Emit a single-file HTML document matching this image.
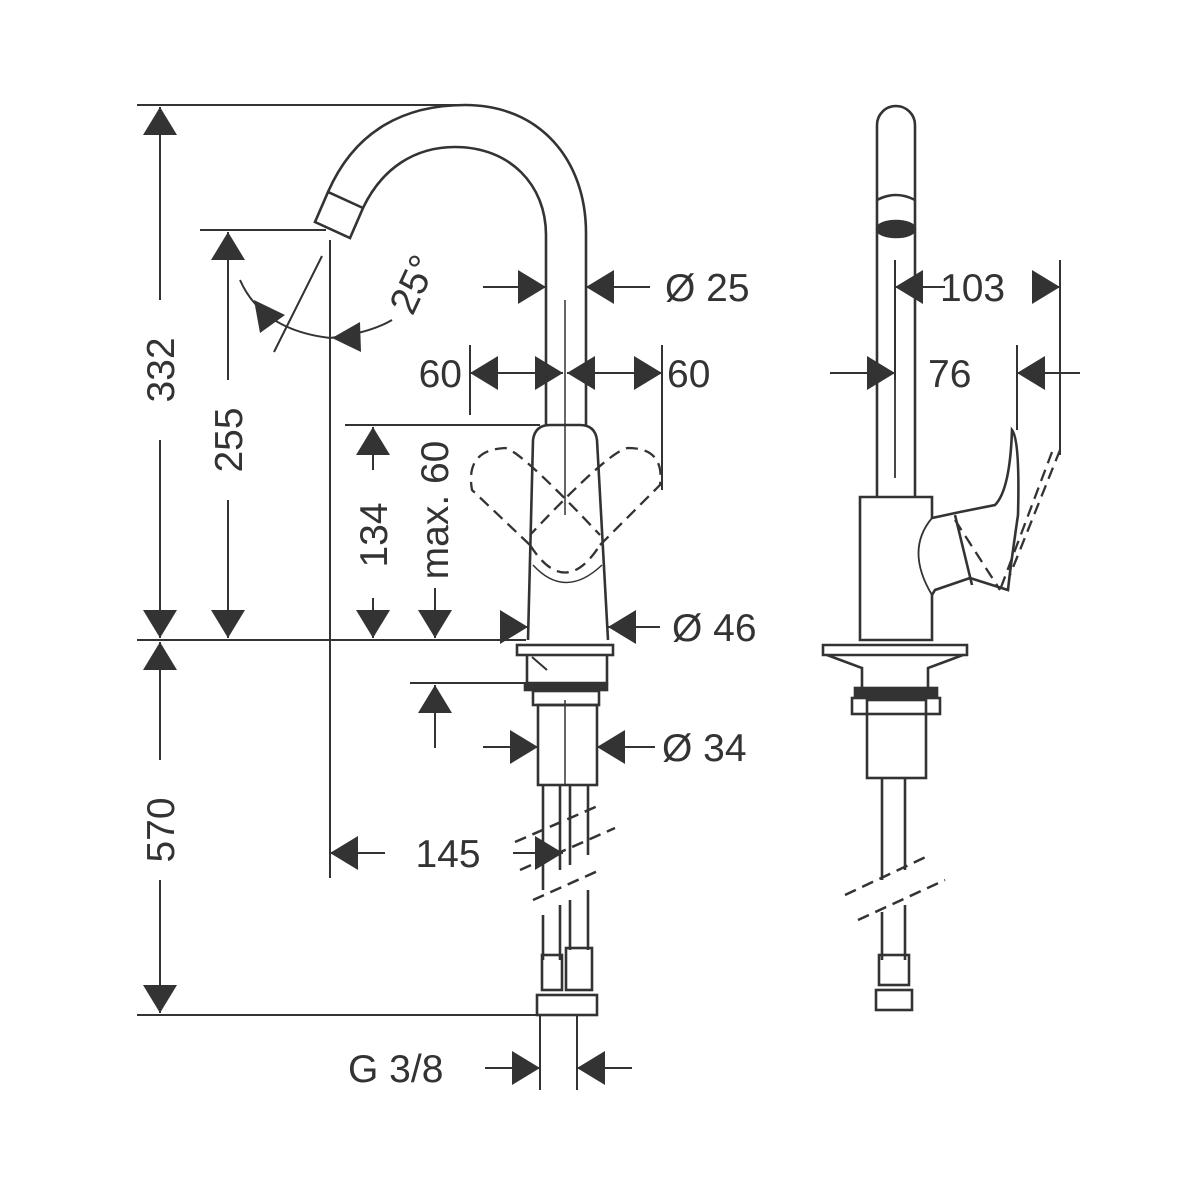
<!DOCTYPE html>
<html><head><meta charset="utf-8"><style>
html,body{margin:0;padding:0;background:#fff}
svg{display:block}
text{font-family:"Liberation Sans",sans-serif;font-size:39px;fill:#333}
</style></head><body>
<svg width="1200" height="1200" viewBox="0 0 1200 1200" xmlns="http://www.w3.org/2000/svg">
<defs>
<marker id="a" markerUnits="userSpaceOnUse" markerWidth="30" markerHeight="34" refX="28" refY="17" orient="auto">
<path d="M0,0 L28,17 L0,34 z" fill="#333"/></marker>
</defs>
<g stroke="#333" stroke-width="2" fill="none">
<line x1="137" y1="105" x2="470" y2="105"/>
<line x1="137" y1="640" x2="526" y2="640"/>
<line x1="137" y1="1015" x2="540" y2="1015"/>
<line x1="200" y1="230" x2="326" y2="230"/>
<line x1="345" y1="425" x2="540" y2="425"/>
<line x1="410" y1="683" x2="528" y2="683"/>
<line x1="330" y1="240" x2="330" y2="878"/>
<line x1="540" y1="1015" x2="540" y2="1090"/>
<line x1="577" y1="1015" x2="577" y2="1090"/>
<line x1="470" y1="345" x2="470" y2="415"/>
<line x1="662" y1="345" x2="662" y2="490"/>
<line x1="895" y1="260" x2="895" y2="380"/>
<line x1="1060" y1="260" x2="1060" y2="455"/>
<line x1="1017" y1="345" x2="1017" y2="430"/>
<line x1="160" y1="300" x2="160" y2="107" marker-end="url(#a)"/>
<line x1="160" y1="440" x2="160" y2="638" marker-end="url(#a)"/>
<line x1="160" y1="760" x2="160" y2="642" marker-end="url(#a)"/>
<line x1="160" y1="880" x2="160" y2="1013" marker-end="url(#a)"/>
<line x1="228" y1="380" x2="228" y2="232" marker-end="url(#a)"/>
<line x1="228" y1="500" x2="228" y2="638" marker-end="url(#a)"/>
<line x1="373" y1="470" x2="373" y2="427" marker-end="url(#a)"/>
<line x1="373" y1="598" x2="373" y2="638" marker-end="url(#a)"/>
<line x1="435" y1="588" x2="435" y2="638" marker-end="url(#a)"/>
<line x1="435" y1="748" x2="435" y2="685" marker-end="url(#a)"/>
<line x1="483" y1="287" x2="546" y2="287" marker-end="url(#a)"/>
<line x1="650" y1="287" x2="586" y2="287" marker-end="url(#a)"/>
<line x1="520" y1="373" x2="470" y2="373" marker-end="url(#a)"/>
<line x1="520" y1="373" x2="563" y2="373" marker-end="url(#a)"/>
<line x1="612" y1="373" x2="567" y2="373" marker-end="url(#a)"/>
<line x1="612" y1="373" x2="662" y2="373" marker-end="url(#a)"/>
<line x1="500" y1="627" x2="528" y2="627" marker-end="url(#a)"/>
<line x1="660" y1="627" x2="608" y2="627" marker-end="url(#a)"/>
<line x1="483" y1="747" x2="538" y2="747" marker-end="url(#a)"/>
<line x1="655" y1="747" x2="597" y2="747" marker-end="url(#a)"/>
<line x1="385" y1="853" x2="330" y2="853" marker-end="url(#a)"/>
<line x1="513" y1="853" x2="563" y2="853" marker-end="url(#a)"/>
<line x1="485" y1="1068" x2="540" y2="1068" marker-end="url(#a)"/>
<line x1="632" y1="1068" x2="577" y2="1068" marker-end="url(#a)"/>
<line x1="945" y1="287" x2="895" y2="287" marker-end="url(#a)"/>
<line x1="1033" y1="287" x2="1060" y2="287" marker-end="url(#a)"/>
<line x1="830" y1="373" x2="895" y2="373" marker-end="url(#a)"/>
<line x1="1080" y1="373" x2="1017" y2="373" marker-end="url(#a)"/>
<line x1="322" y1="256" x2="274" y2="352"/>
<path d="M240,280 Q262,330 330,338"/>
<path d="M330,338 Q370,333 392,320"/>
<polygon points="254,300 285,315 260,333" fill="#333" stroke="none"/>
<polygon points="332,338 360,322 361,352" fill="#333" stroke="none"/>
</g>
<g stroke="#333" stroke-width="2.6" fill="none">
<path d="M328,192 C355,130 405,105 465,105 C540,105 586,160 586,233 L586,425"/>
<path d="M363,208 C382,168 415,147 455,147 C510,147 546,185 546,235 L546,425"/>
<polygon points="315,222 328,192 363,208 350,238"/>
<path d="M528,640 L533,440 Q535,425 550,425 L580,425 Q595,425 597,440 L608,640"/>
<path d="M533,565 Q565,600 602,565" stroke-width="1.5"/>
<rect x="517" y="645" width="96" height="10"/>
<path d="M527,655 L527,683 L607,683 L607,655"/>
<rect x="525" y="684" width="82" height="6" fill="#333"/>
<rect x="533" y="691" width="66" height="14"/>
<rect x="538" y="705" width="59" height="80"/>
<line x1="532" y1="657" x2="547" y2="670" stroke-width="2"/>
<line x1="565" y1="700" x2="565" y2="785" stroke-width="1.5"/>
<line x1="565" y1="300" x2="565" y2="515" stroke-width="1.5"/>
<line x1="543" y1="785" x2="543" y2="890"/><line x1="560" y1="785" x2="560" y2="870"/>
<line x1="570" y1="785" x2="570" y2="865"/><line x1="588" y1="785" x2="588" y2="855"/>
<line x1="543" y1="915" x2="543" y2="960"/><line x1="560" y1="905" x2="560" y2="960"/>
<line x1="570" y1="900" x2="570" y2="950"/><line x1="588" y1="890" x2="588" y2="950"/>
<rect x="542" y="955" width="20" height="35"/>
<rect x="566" y="948" width="26" height="42"/>
<rect x="537" y="995" width="60" height="20"/>
</g>
<g stroke="#333" stroke-width="2.5" fill="none" stroke-dasharray="12,7">
<path d="M515,842 L600,805"/><path d="M520,870 L615,828"/><path d="M533,900 L600,870"/>
<path d="M845,895 L930,855"/><path d="M858,920 L945,880"/>
<path d="M530,545 L472,490 Q465,450 505,448 Q520,450 600,535" stroke-width="2.3"/>
<path d="M600,545 L660,485 Q665,448 628,448 Q610,450 530,535" stroke-width="2.3"/>
<path d="M530,545 Q565,600 600,545" stroke-width="2.3"/>
<path d="M955,520 L1000,590 M1052,452 L1000,590 M1060,450 L1010,575" stroke-width="2.3"/>
</g>
<g stroke="#333" stroke-width="2.6" fill="none">
<path d="M877,497 L877,125 A19,19 0 0 1 915,125 L915,497"/>
<path d="M877,200 Q896,190 915,200"/>
<ellipse cx="896" cy="229" rx="19" ry="8" fill="#333"/>
<line x1="895" y1="260" x2="895" y2="478" stroke-width="1.8"/>
<path d="M860,640 L860,497 L932,497 L932,518 L960,512 L995,505 Q1010,490 1012,430 Q1020,440 1018,515 Q1010,570 1008,590 L992,585 L970,578 L935,590 L932,595 L932,640 Z"/>
<path d="M932,518 Q905,550 932,595" stroke-width="1.8"/>
<line x1="955" y1="515" x2="972" y2="585"/>
<path d="M823,645 L967,645 L967,655 L823,655 Z"/>
<path d="M827,655 L862,668 L862,688 M963,655 L928,668 L928,688"/>
<rect x="855" y="688" width="82" height="8" fill="#333"/>
<rect x="852" y="698" width="88" height="16"/>
<rect x="867" y="700" width="59" height="78"/>
<line x1="882" y1="778" x2="882" y2="880"/><line x1="905" y1="778" x2="905" y2="870"/>
<line x1="882" y1="912" x2="882" y2="960"/><line x1="905" y1="905" x2="905" y2="960"/>
<rect x="879" y="955" width="30" height="30"/>
<rect x="876" y="990" width="36" height="20"/>
</g>
<text transform="translate(174,370) rotate(-90)" text-anchor="middle">332</text>
<text transform="translate(242,440) rotate(-90)" text-anchor="middle">255</text>
<text transform="translate(387,535) rotate(-90)" text-anchor="middle">134</text>
<text transform="translate(448,510) rotate(-90)" text-anchor="middle">max. 60</text>
<text transform="translate(174,830) rotate(-90)" text-anchor="middle">570</text>
<text transform="translate(425,290) rotate(-65)" text-anchor="middle">25°</text>
<text x="665" y="301">Ø 25</text>
<text x="462" y="387" text-anchor="end">60</text>
<text x="667" y="387">60</text>
<text x="672" y="641">Ø 46</text>
<text x="662" y="761">Ø 34</text>
<text x="448" y="867" text-anchor="middle">145</text>
<text x="348" y="1082">G 3/8</text>
<text x="940" y="301">103</text>
<text x="928" y="387">76</text>
</svg>
</body></html>
